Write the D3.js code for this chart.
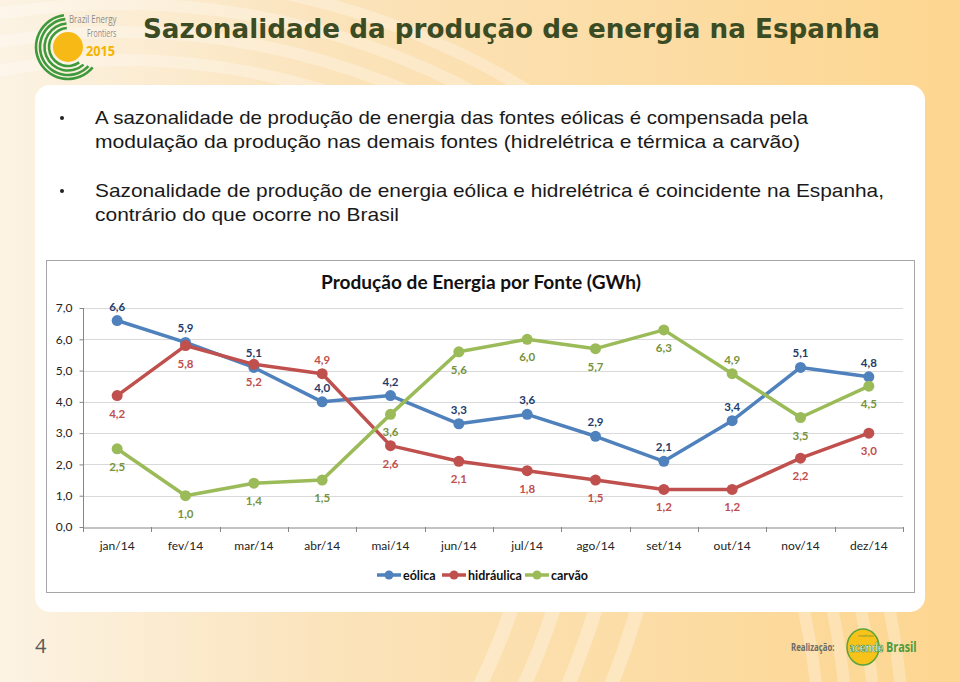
<!DOCTYPE html>
<html><head><meta charset="utf-8">
<script src="https://cdn.jsdelivr.net/npm/d3@7"></script>
<style>body{margin:0;padding:0;overflow:hidden;}svg{display:block;}</style>
</head><body>
<svg id="c" width="960" height="682"></svg>
<script>
const months = ["jan/14","fev/14","mar/14","abr/14","mai/14","jun/14","jul/14","ago/14","set/14","out/14","nov/14","dez/14"];
const eolica = [6.6,5.9,5.1,4.0,4.2,3.3,3.6,2.9,2.1,3.4,5.1,4.8];
const hidraulica = [4.2,5.8,5.2,4.9,2.6,2.1,1.8,1.5,1.2,1.2,2.2,3.0];
const carvao = [2.5,1.0,1.4,1.5,3.6,5.6,6.0,5.7,6.3,4.9,3.5,4.5];
const yTicks = [0,1,2,3,4,5,6,7];
const seriesNames = ["eólica","hidráulica","carvão"];
// label position: 1 = above, -1 = below
const eolicaPos = [1,1,1,1,1,1,1,1,1,1,1,1];
const hidraulicaPos = [-1,-1,-1,1,-1,-1,-1,-1,-1,-1,-1,-1];
const carvaoPos = [-1,-1,-1,-1,-1,-1,-1,-1,-1,1,-1,-1];
const pageTitle = "Sazonalidade da produção de energia na Espanha";
const chartTitle = "Produção de Energia por Fonte (GWh)";
const bullets = [
  ["A sazonalidade de produção de energia das fontes eólicas é compensada pela",
   "modulação da produção nas demais fontes (hidrelétrica e térmica a carvão)"],
  ["Sazonalidade de produção de energia eólica e hidrelétrica é coincidente na Espanha,",
   "contrário do que ocorre no Brasil"]
];

const svg = d3.select("#c");
const defs = svg.append("defs");
const g1 = defs.append("linearGradient").attr("id","bg").attr("x1","0").attr("x2","1").attr("y1","0").attr("y2","0");
g1.append("stop").attr("offset","0%").attr("stop-color","#fcf3e4");
g1.append("stop").attr("offset","35%").attr("stop-color","#fbe3ba");
g1.append("stop").attr("offset","100%").attr("stop-color","#fdd690");
svg.append("rect").attr("width",960).attr("height",682).attr("fill","url(#bg)");
defs.append("clipPath").attr("id","bottomClip").append("rect").attr("x",0).attr("y",560).attr("width",960).attr("height",122);

// faint decorative arcs
const deco = svg.append("g").attr("fill","none").attr("stroke","#ffffff").attr("stroke-opacity",0.28);
[0,1,2,3].forEach(i=>{
  deco.append("circle").attr("cx",120).attr("cy",760).attr("r",700+i*28).attr("stroke-width",12);
});
const deco2 = svg.append("g").attr("clip-path","url(#bottomClip)").attr("fill","none").attr("stroke","#ffffff").attr("stroke-opacity",0.3);
[0,1,2,3].forEach(i=>{
  deco2.append("circle").attr("cx",-150).attr("cy",380).attr("r",700+i*40).attr("stroke-width",14);
});

// header logo
const logo = svg.append("g").attr("transform","translate(68,47)");
logo.append("circle").attr("r",15).attr("fill","#f6b915");
const arcGen = d3.arc();
[[19,0.80,1.98],[23.5,0.77,1.98],[28,0.74,1.97],[32,0.72,1.96]].forEach(([r,a0,a1])=>{
  logo.append("path").attr("d",arcGen({innerRadius:r-1.3,outerRadius:r+1.3,startAngle:a0*Math.PI,endAngle:a1*Math.PI}))
    .attr("fill","#3e9a3c");
});
svg.append("g").attr("transform","translate(69,23) scale(0.75,1)").append("text")
  .attr("font-family","'Open Sans', sans-serif").attr("font-size",10.5).attr("fill","#8c8c8c").text("Brazil Energy");
svg.append("g").attr("transform","translate(87,36.5) scale(0.7,1)").append("text")
  .attr("font-family","'Open Sans', sans-serif").attr("font-size",10).attr("fill","#8c8c8c").text("Frontiers");
svg.append("g").attr("transform","translate(86,56) scale(0.85,1)").append("text")
  .attr("font-family","'Open Sans', sans-serif").attr("font-weight","bold").attr("font-size",15).attr("fill","#f4b400").text("2015");

// page title
svg.append("text").attr("x",143).attr("y",38).attr("font-family","'DejaVu Sans', Verdana, sans-serif").attr("font-weight","bold")
  .attr("font-size",27).attr("fill","#3b4c24").attr("textLength",737).attr("lengthAdjust","spacingAndGlyphs").text(pageTitle);

// white panel
svg.append("rect").attr("x",35).attr("y",85).attr("width",890).attr("height",527).attr("rx",15).attr("fill","#ffffff");

// bullets
const bLines = [[124,148],[197,221]];
const bWidths = [[713,705],[789,304]];
bullets.forEach((b,i)=>{
  svg.append("circle").attr("cx",62).attr("cy",bLines[i][0]-6).attr("r",2).attr("fill","#222");
  b.forEach((t,j)=>{
    svg.append("text").attr("x",95).attr("y",bLines[i][j]).attr("font-family","'Liberation Sans', Arial, sans-serif")
      .attr("font-size",18.5).attr("fill","#1a1a1a").attr("textLength",bWidths[i][j]).attr("lengthAdjust","spacingAndGlyphs").text(t);
  });
});

// chart frame
svg.append("rect").attr("x",46.5).attr("y",260.5).attr("width",868).attr("height",332).attr("fill","#fff").attr("stroke","#a6a6a6").attr("stroke-width",1);

const FONT = "Lato, 'Open Sans', sans-serif";
const x = d3.scaleBand().domain(months).range([83,903]);
const y = d3.scaleLinear().domain([0,7]).range([527,308]);
const cx = m => x(m) + x.bandwidth()/2;
const fmt = v => d3.format(".1f")(v).replace(".",",");

svg.append("text").attr("x",481).attr("y",289).attr("text-anchor","middle").attr("font-family",FONT)
  .attr("font-weight","bold").attr("font-size",18).attr("fill","#111")
  .attr("textLength",320).attr("lengthAdjust","spacingAndGlyphs").text(chartTitle);

// gridlines
svg.append("g").selectAll("line").data(yTicks.filter(d=>d>0)).join("line")
  .attr("x1",83).attr("x2",903).attr("y1",d=>Math.round(y(d))+0.5).attr("y2",d=>Math.round(y(d))+0.5)
  .attr("stroke","#d9d9d9").attr("stroke-width",1);

// y axis
const yAx = svg.append("g").attr("transform","translate(83.5,0)")
  .call(d3.axisLeft(y).tickValues(yTicks).tickFormat(fmt).tickSize(4).tickPadding(7));
yAx.select(".domain").attr("stroke","#868686").attr("d","M0,308V527");
yAx.selectAll(".tick line").attr("stroke","#868686");
yAx.selectAll(".tick text").attr("font-family",FONT).attr("font-size",12).attr("fill","#222");

// x axis
const xAx = svg.append("g").attr("transform","translate(0,527.5)")
  .call(d3.axisBottom(x).tickSize(0).tickPadding(14));
xAx.select(".domain").attr("stroke","#868686");
xAx.selectAll(".tick text").attr("font-family",FONT).attr("font-size",12).attr("fill","#222");
const bounds = months.map(m=>x(m)).concat([x.range()[1]]);
svg.append("g").selectAll("line").data(bounds).join("line")
  .attr("x1",d=>Math.round(d)+0.5).attr("x2",d=>Math.round(d)+0.5).attr("y1",527).attr("y2",532)
  .attr("stroke","#868686");

const series = [
  {name:seriesNames[0], values:eolica, pos:eolicaPos, color:"#4f81bd", label:"#1f3c6b"},
  {name:seriesNames[1], values:hidraulica, pos:hidraulicaPos, color:"#c0504d", label:"#c0504d"},
  {name:seriesNames[2], values:carvao, pos:carvaoPos, color:"#9bbb59", label:"#77933c"}
];
const line = d3.line().x((d,i)=>cx(months[i])).y(d=>y(d));
series.forEach(s=>{
  const g = svg.append("g");
  g.append("path").attr("d",line(s.values)).attr("fill","none").attr("stroke",s.color).attr("stroke-width",3.5).attr("stroke-linejoin","round");
  g.selectAll("circle").data(s.values).join("circle").attr("cx",(d,i)=>cx(months[i])).attr("cy",d=>y(d)).attr("r",5.5).attr("fill",s.color);
});
series.forEach(s=>{
  svg.append("g").selectAll("text").data(s.values).join("text")
    .attr("x",(d,i)=>cx(months[i])).attr("y",(d,i)=>y(d) + (s.pos[i]>0 ? -10 : 22))
    .attr("text-anchor","middle").attr("font-family",FONT).attr("font-weight","bold").attr("font-size",11.5)
    .attr("fill",s.label).text(d=>fmt(d));
});

// legend
const legX = [377,442,525];
series.forEach((s,i)=>{
  const g = svg.append("g").attr("transform",`translate(${legX[i]},575)`);
  g.append("line").attr("x1",0).attr("x2",24).attr("stroke",s.color).attr("stroke-width",3.5);
  g.append("circle").attr("cx",12).attr("r",4.5).attr("fill",s.color);
  g.append("text").attr("x",26).attr("y",4.5).attr("font-family",FONT).attr("font-weight","bold").attr("font-size",12.5).attr("fill","#111").text(s.name);
});

// footer
svg.append("text").attr("x",35).attr("y",653).attr("font-family","'Open Sans', sans-serif").attr("font-size",20).attr("fill","#5a5a5a").text("4");
svg.append("g").attr("transform","translate(791,651) scale(0.78,1)").append("text")
  .attr("font-family","'Open Sans', sans-serif").attr("font-weight","bold").attr("font-size",10).attr("fill","#6a6a6a").text("Realização:");
const fl = svg.append("g");
fl.append("ellipse").attr("cx",863).attr("cy",647).attr("rx",16).attr("ry",18).attr("fill","#f7c21a").attr("stroke","#5aa33a").attr("stroke-width",1.5);
fl.append("text").attr("x",866).attr("y",637).attr("text-anchor","middle").attr("font-family","'Open Sans', sans-serif").attr("font-size",4).attr("fill","#5a8a3a").text("instituto");
fl.append("g").attr("transform","translate(849,652) scale(0.74,1)").append("text")
  .attr("font-family","'Open Sans', sans-serif").attr("font-weight","bold").attr("font-size",13)
  .attr("fill","#ffffff").attr("stroke","#3f8f36").attr("stroke-width",0.7).text("acende");
fl.append("g").attr("transform","translate(886,652) scale(0.72,1)").append("text")
  .attr("font-family","'Open Sans', sans-serif").attr("font-weight","bold").attr("font-size",15)
  .attr("fill","#4d9a3c").text("Brasil");
</script>
</body></html>
